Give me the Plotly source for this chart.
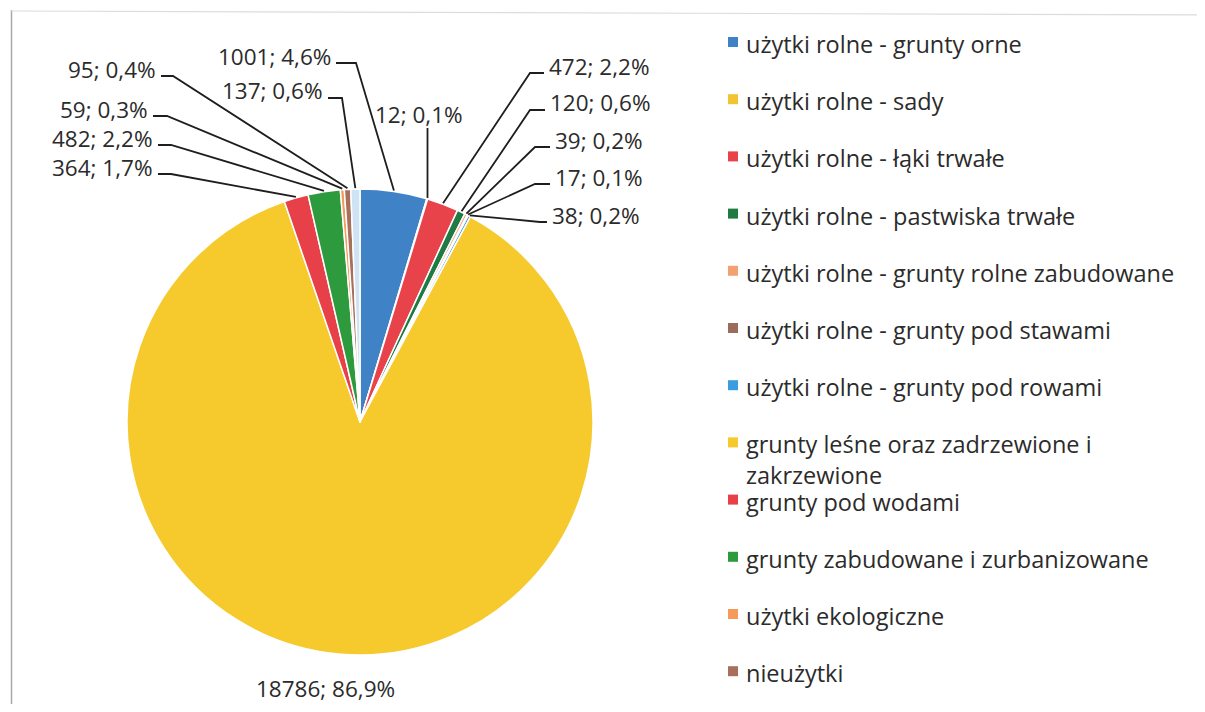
import math
import plotly.graph_objects as go

# ---------------- data ----------------
categories = [
    "użytki rolne - grunty orne",
    "użytki rolne - sady",
    "użytki rolne - łąki trwałe",
    "użytki rolne - pastwiska trwałe",
    "użytki rolne - grunty rolne zabudowane",
    "użytki rolne - grunty pod stawami",
    "użytki rolne - grunty pod rowami",
    "grunty leśne oraz zadrzewione i zakrzewione",
    "grunty pod wodami",
    "grunty zabudowane i zurbanizowane",
    "użytki ekologiczne",
    "nieużytki",
    "tereny różne",
]
values = [1001, 12, 472, 120, 39, 17, 38, 18786, 364, 482, 59, 95, 137]
legend_labels = [
    "użytki rolne - grunty orne",
    "użytki rolne - sady",
    "użytki rolne - łąki trwałe",
    "użytki rolne - pastwiska trwałe",
    "użytki rolne - grunty rolne zabudowane",
    "użytki rolne - grunty pod stawami",
    "użytki rolne - grunty pod rowami",
    "grunty leśne oraz zadrzewione i<br>zakrzewione",
    "grunty pod wodami",
    "grunty zabudowane i zurbanizowane",
    "użytki ekologiczne",
    "nieużytki",
]
colors = [
    "#3F82C6", "#F3C432", "#E8434B", "#1F7A43", "#F5A070", "#9C6B5B",
    "#3C9CE0", "#F6C92C", "#E84048", "#2E9A3E", "#F59A5A", "#A8705A", "#CFE3F5",
]

# ---------------- layout constants ----------------
VW, VH = 1205, 712          # browser window
OFF = 8                     # default page body margin
W, H = VW - 2 * OFF, VH - 2 * OFF
CX, CY, R = 360, 422, 233   # pie centre / radius in window pixels
FONT = "Open Sans"
FS = 23.5
LFS = 22.5
TXT = "#2b2b2b"

# data label placement: index -> (side, text x, text centre y, stub outer x)
label_pos = {
    0: ("L", 333, 56, 356),
    12: ("L", 325, 91, 342),
    11: ("L", 158, 69, 173),
    10: ("L", 150, 109, 167),
    9: ("L", 155, 138, 171),
    8: ("L", 155, 167, 171),
    2: ("R", 547, 66, 530),
    3: ("R", 548, 103, 530),
    4: ("R", 553, 140, 535),
    5: ("R", 553, 177, 535),
    6: ("R", 550, 215, 540),
    1: ("T", 419, 114, 128),
    7: ("B", 325, 688, None),
}


def px(x):
    return (x - OFF) / W


def py(y):
    return 1 - (y - OFF) / H


total = sum(values)

fig = go.Figure()
fig.add_trace(go.Pie(
    labels=categories,
    values=values,
    sort=False,
    direction="clockwise",
    rotation=0,
    marker=dict(colors=colors, line=dict(color="white", width=1.5)),
    textinfo="none",
    hoverinfo="label+value+percent",
    showlegend=False,
    domain=dict(x=[px(CX - R), px(CX + R)], y=[py(CY + R), py(CY - R)]),
))

shapes = []
annotations = []
lab_font = dict(family=FONT, size=LFS, color=TXT)

# data labels and leader lines computed from the values
cum = 0.0
for i, v in enumerate(values):
    mid = (cum + v / 2) / total
    cum += v
    theta = 2 * math.pi * mid
    ex = CX + (R + 1) * math.sin(theta)
    ey = CY - (R + 1) * math.cos(theta)
    pct = f"{100 * v / total:.1f}".replace(".", ",")
    text = f"{v}; {pct}%"
    side, tx, ty, sx = label_pos[i]
    anchor = {"L": "right", "R": "left", "T": "center", "B": "center"}[side]
    annotations.append(dict(x=px(tx), y=py(ty), xref="paper", yref="paper", font=lab_font,
                            text=text, showarrow=False, xanchor=anchor, yanchor="middle"))
    if side == "L":
        sy = ty + 7
        path = f"M {px(tx + 3)} {py(sy)} L {px(sx)} {py(sy)} L {px(ex)} {py(ey)}"
    elif side == "R":
        sy = ty + 7
        path = f"M {px(tx - 3)} {py(sy)} L {px(sx)} {py(sy)} L {px(ex)} {py(ey)}"
    elif side == "T":
        path = f"M {px(ex)} {py(sx)} L {px(ex)} {py(ey)}"
    else:
        path = None
    if path:
        shapes.append(dict(type="path", path=path, xref="paper", yref="paper",
                           line=dict(color="#1e1e1e", width=1.8)))

# legend (squares + text)
LEG_X, LEG_Y0, LEG_DY, SQ = 728, 42, 57.2, 10
for i, lab in enumerate(legend_labels):
    y = LEG_Y0 + i * LEG_DY
    shapes.append(dict(type="rect", xref="paper", yref="paper",
                       x0=px(LEG_X), x1=px(LEG_X + SQ), y0=py(y + SQ / 2), y1=py(y - SQ / 2),
                       fillcolor=colors[i], line=dict(width=0)))
    annotations.append(dict(x=px(LEG_X + 16), y=py(y - 16), xref="paper", yref="paper",
                            text=lab, showarrow=False, xanchor="left", yanchor="top",
                            align="left"))

# scan frame
shapes.append(dict(type="line", xref="paper", yref="paper", x0=px(11.5), x1=px(11.5),
                   y0=py(10), y1=py(712), line=dict(color="#a8a8a8", width=1.5)))
shapes.append(dict(type="line", xref="paper", yref="paper", x0=px(11), x1=px(1205),
                   y0=py(11), y1=py(15), line=dict(color="#dcdcdc", width=1.2)))

fig.update_layout(
    width=W, height=H,
    margin=dict(l=0, r=0, t=0, b=0),
    paper_bgcolor="white",
    plot_bgcolor="white",
    font=dict(family=FONT, size=FS, color=TXT),
    shapes=shapes,
    annotations=annotations,
    showlegend=False,
)

fig.write_html("out.html")
